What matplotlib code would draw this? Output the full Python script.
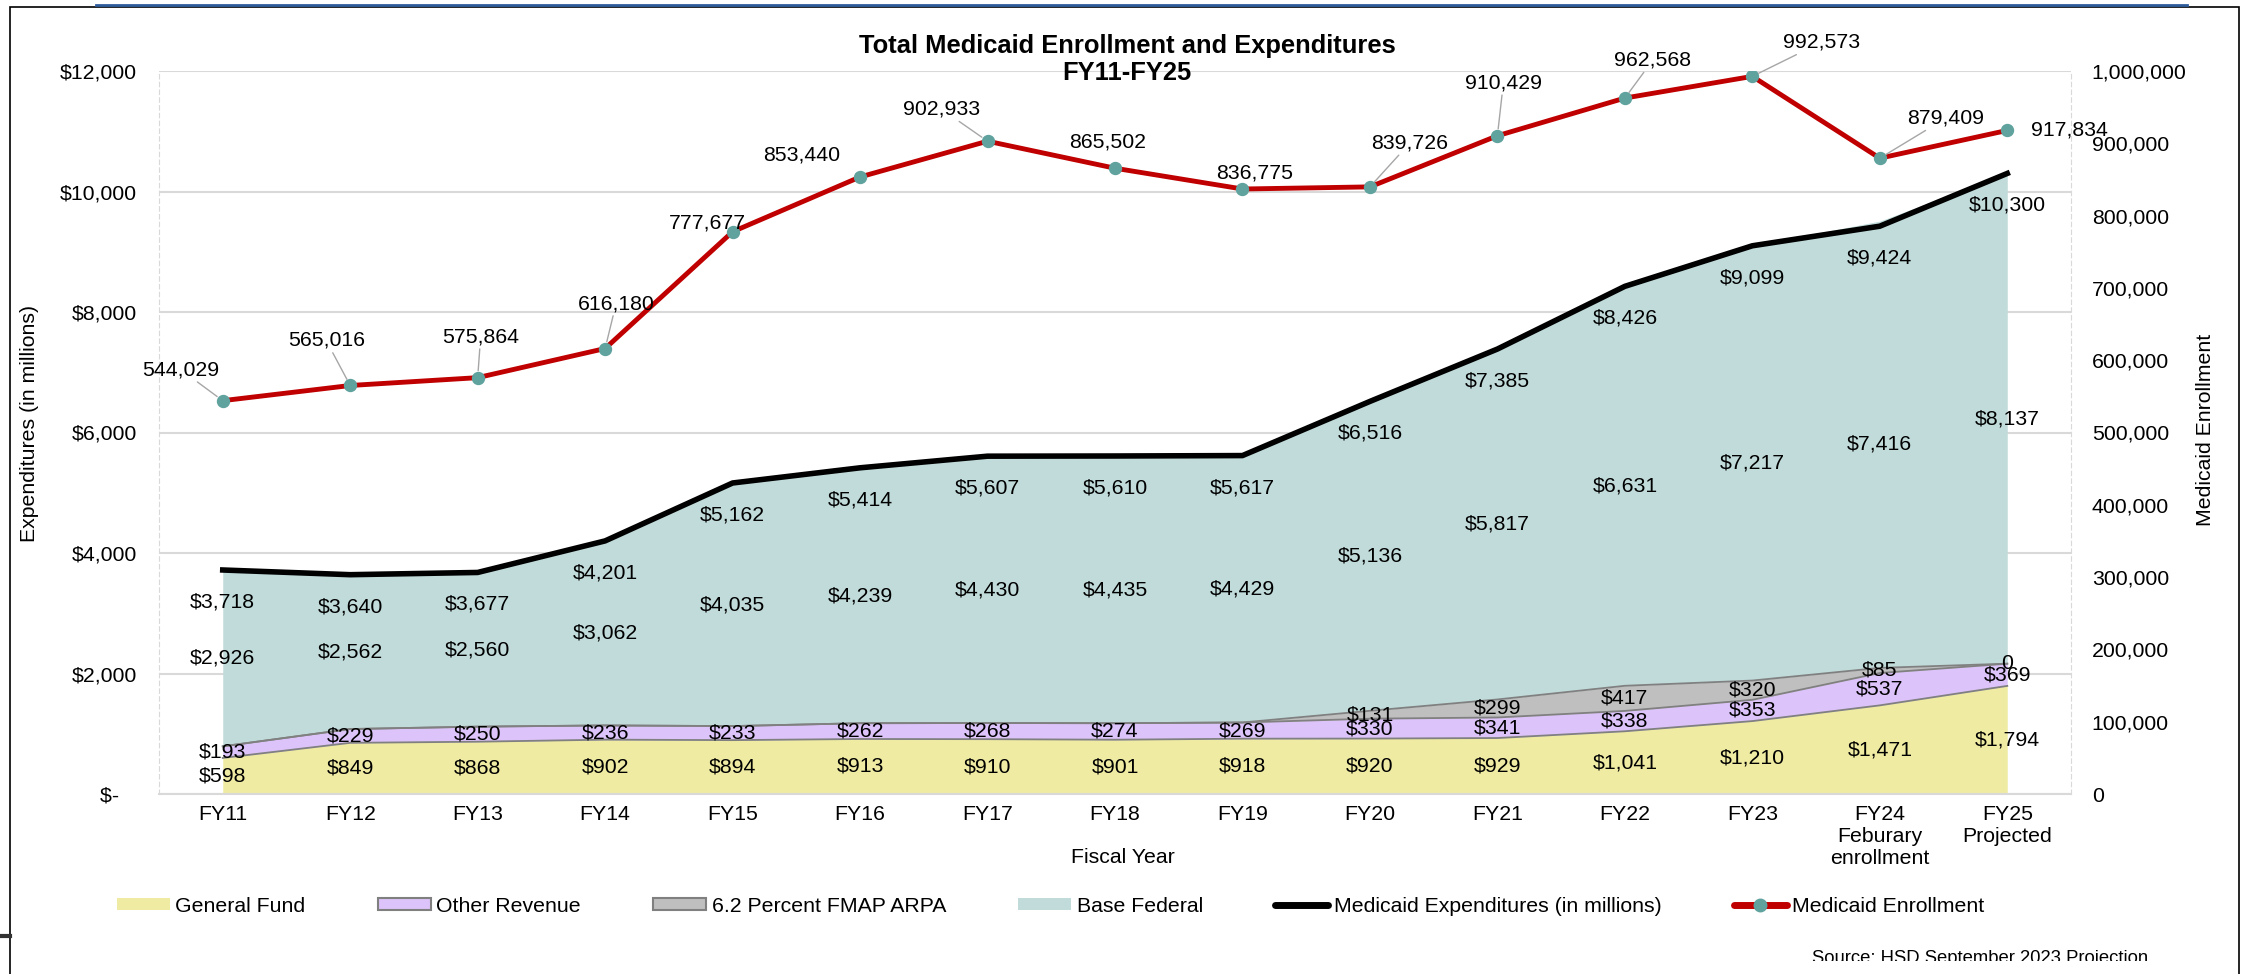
import matplotlib.pyplot as plt
import numpy as np
from matplotlib.patches import Patch, Rectangle
from matplotlib.lines import Line2D

plt.rcParams['font.family'] = ['Liberation Sans', 'DejaVu Sans']

years = ['FY11', 'FY12', 'FY13', 'FY14', 'FY15', 'FY16', 'FY17', 'FY18', 'FY19',
         'FY20', 'FY21', 'FY22', 'FY23', 'FY24\nFeburary\nenrollment', 'FY25\nProjected']
general_fund = [598, 849, 868, 902, 894, 913, 910, 901, 918, 920, 929, 1041, 1210, 1471, 1794]
other_revenue = [193, 229, 250, 236, 233, 262, 268, 274, 269, 330, 341, 338, 353, 537, 369]
fmap_arpa = [0, 0, 0, 0, 0, 0, 0, 0, 0, 131, 299, 417, 320, 85, 0]
base_federal = [2926, 2562, 2560, 3062, 4035, 4239, 4430, 4435, 4429, 5136, 5817, 6631, 7217, 7416, 8137]
expenditures = [3718, 3640, 3677, 4201, 5162, 5414, 5607, 5610, 5617, 6516, 7385, 8426, 9099, 9424, 10300]
enrollment = [544029, 565016, 575864, 616180, 777677, 853440, 902933, 865502, 836775,
              839726, 910429, 962568, 992573, 879409, 917834]

c_gf = '#efeba3'
c_oth = '#dcc3f9'
c_arpa = '#bfbfbf'
c_base = '#c0dbda'
c_edge = '#808080'
c_red = '#c00000'
c_teal = '#5fa29e'
c_grid = '#d9d9d9'
fs = 15.3

W, H = 2244, 974
fig = plt.figure(figsize=(W / 100, H / 100), dpi=100)
ax = fig.add_axes([159 / W, 1 - 794 / H, (2071 - 159) / W, (794 - 71) / H])
ax2 = ax.twinx()

x = np.arange(len(years))
gf = np.array(general_fund)
oth = np.array(other_revenue)
arpa = np.array(fmap_arpa)
base = np.array(base_federal)
lvl1 = gf
lvl2 = lvl1 + oth
lvl3 = lvl2 + arpa
lvl4 = lvl3 + base

ax.fill_between(x, 0, lvl1, color=c_gf, lw=0)
ax.fill_between(x, lvl1, lvl2, color=c_oth, lw=0)
ax.fill_between(x, lvl2, lvl3, color=c_arpa, lw=0)
ax.fill_between(x, lvl3, lvl4, color=c_base, lw=0)
for top in (lvl1, lvl2, lvl3):
    ax.plot(x, top, color=c_edge, lw=1.3)
ax.plot(x, expenditures, color='black', lw=4)

# stacked labels
for i in x:
    ax.text(i, gf[i] / 2, f'${gf[i]:,}', ha='center', va='center', fontsize=fs)
    ax.text(i, lvl1[i] + oth[i] / 2, f'${oth[i]:,}', ha='center', va='center', fontsize=fs)
    if i >= 9:
        lab = f'${arpa[i]:,}' if arpa[i] > 0 else '0'
        ax.text(i, lvl2[i] + arpa[i] / 2, lab, ha='center', va='center', fontsize=fs)
    ax.text(i, lvl3[i] + base[i] / 2, f'${base[i]:,}', ha='center', va='center', fontsize=fs)
    ax.annotate(f'${expenditures[i]:,}', (i, expenditures[i]), xytext=(0, -23),
                textcoords='offset points', ha='center', va='center', fontsize=fs)

ax2.plot(x, enrollment, color=c_red, lw=3.5, marker='o', ms=8.6, mfc=c_teal, mec=c_teal, zorder=3)

# label offsets in pixels (dx, dy with dy up negative), leader line flag
enr_offsets = [(-42, -31), (-24, -45), (3, -41), (11, -45), (-25, -9), (-58, -22), (-46, -32),
               (-7, -26), (12, -16), (40, -44), (6, -53), (28, -38), (69, -34), (66, -40), (62, 0)]
enr_leader = [1, 1, 1, 1, 0, 0, 1, 0, 0, 1, 1, 1, 1, 1, 0]
for i, v in enumerate(enrollment):
    dx, dy = enr_offsets[i]
    ap = dict(arrowstyle='-', color='#a6a6a6', lw=1, shrinkA=0, shrinkB=5) if enr_leader[i] else None
    ax2.annotate(f'{v:,}', (i, v), xytext=(dx * 0.72, -dy * 0.72), textcoords='offset points',
                 ha='center', va='center', fontsize=fs, arrowprops=ap)

ax.set_xlim(-0.5, len(years) - 0.5)
ax.set_ylim(0, 12000)
ax2.set_ylim(0, 1000000)
ax.set_xticks(x)
ax.set_xticklabels(years, fontsize=fs)
yt = list(range(0, 12001, 2000))
ax.set_yticks(yt)
ax.set_yticklabels([f'${v:,}' if v else '$-   ' for v in yt], fontsize=fs)
yt2 = list(range(0, 1000001, 100000))
ax2.set_yticks(yt2)
ax2.set_yticklabels([f'{v:,}' for v in yt2], fontsize=fs)
ax.tick_params(axis='y', length=0, pad=16)
ax.tick_params(axis='x', length=0, pad=8)
ax2.tick_params(axis='y', length=0, pad=15)

ax.yaxis.grid(True, color=c_grid, lw=1.5)
ax.set_axisbelow(True)
ax.spines['top'].set_visible(False)
ax.spines['right'].set_visible(False)
ax.spines['bottom'].set_color(c_grid)
ax.spines['bottom'].set_linewidth(1.5)
ax.spines['left'].set_color(c_grid)
ax.spines['left'].set_linestyle((0, (4, 3)))
for s in ('top', 'bottom', 'left'):
    ax2.spines[s].set_visible(False)
ax2.spines['right'].set_color(c_grid)
ax2.spines['right'].set_linestyle((0, (4, 3)))

ax.set_xlabel('Fiscal Year', fontsize=fs)
ax.xaxis.set_label_coords(0.504, -0.0747)
ax.set_ylabel('Expenditures (in millions)', fontsize=fs)
ax.yaxis.set_label_coords(-0.0628, 0.512)
ax2.set_ylabel('Medicaid Enrollment', fontsize=fs)
ax2.yaxis.set_label_coords(1.0654, 0.503)

fig.text(1127 / W, 1 - 59.5 / H, 'Total Medicaid Enrollment and Expenditures\nFY11-FY25',
         ha='center', va='center', fontsize=18.4, fontweight='bold', linespacing=1.2)

handles = [Patch(facecolor=c_gf, edgecolor='none'),
           Patch(facecolor=c_oth, edgecolor=c_edge, lw=1.5),
           Patch(facecolor=c_arpa, edgecolor=c_edge, lw=1.5),
           Patch(facecolor=c_base, edgecolor='none'),
           Line2D([], [], color='black', lw=5, solid_capstyle='round'),
           Line2D([], [], color=c_red, lw=5, solid_capstyle='round', marker='o', ms=9,
                  mfc=c_teal, mec=c_teal)]
labels = ['General Fund', 'Other Revenue', '6.2 Percent FMAP ARPA', 'Base Federal',
          'Medicaid Expenditures (in millions)', 'Medicaid Enrollment']
fig.legend(handles, labels, loc='center left', bbox_to_anchor=(117 / W, 1 - 906 / H), ncol=6,
           frameon=False, fontsize=fs, handlelength=2.5, handleheight=0.55, handletextpad=0.25,
           columnspacing=3.4, borderpad=0, borderaxespad=0)

fig.text(1812 / W, 1 - 950 / H, 'Source: HSD September 2023 Projection', va='top', fontsize=13.3)
fig.add_artist(Rectangle((1700 / W, 0), (2236 - 1700) / W, 13 / H, transform=fig.transFigure,
                         fc='white', ec='none', zorder=10))

# outer frame
fig.add_artist(Rectangle((10 / W, -0.05), 2229 / W, 1 - 7 / H + 0.05, transform=fig.transFigure,
                         fill=False, ec='black', lw=1.2))
fig.add_artist(Line2D([96 / W, 2187 / W], [1 - 4.5 / H] * 2, color='#2e5c9a', lw=2))
fig.add_artist(Line2D([0, 10 / W], [1 - 936 / H] * 2, color='#333333', lw=3))

fig.savefig('out.png', dpi=100)
